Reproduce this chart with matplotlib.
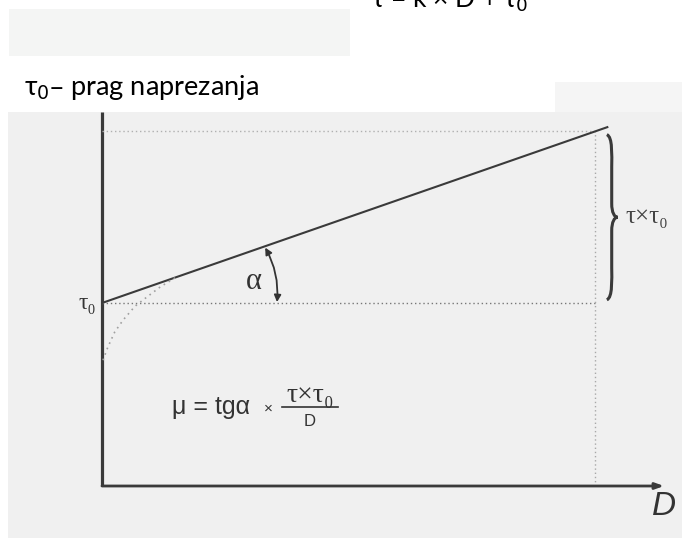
import numpy as np
import matplotlib
matplotlib.use("Agg")
import matplotlib.pyplot as plt
from matplotlib.patches import Rectangle, FancyArrowPatch, PathPatch
from matplotlib.path import Path

# ---- data (diagram quantities) ----
tau0 = 4.0            # yield stress level
k = 0.375             # slope (tg alpha)
D_max = 10.0          # end of the considered shear-rate range
D_line = [0.0, 10.25] # extent of the Bingham straight line
D_curve = [0.02, 0.12, 0.26, 0.43, 0.67, 0.91, 1.18, 1.48]   # real flow curve (dotted)
tau_curve = [2.75, 3.04, 3.37, 3.63, 3.93, 4.13, 4.35, 4.55]
tau_line = [tau0 + k * d for d in D_line]
tau_max = tau0 + k * D_max

title_top = "τ = k × D + τ$_0$"
subtitle = "τ$_0$– prag naprezanja"
x_label = "D"

SERIF = ["Liberation Serif", "DejaVu Serif"]
SANS = ["Liberation Sans", "DejaVu Sans"]

W, H = 682, 538
fig = plt.figure(figsize=(W / 100, H / 100), dpi=100)
fig.patch.set_facecolor("white")

# background axes in pixel coordinates (decorative scan patches and page text)
bg = fig.add_axes([0, 0, 1, 1])
bg.set_xlim(0, W)
bg.set_ylim(H, 0)
bg.axis("off")
bg.add_patch(Rectangle((9, 9), 341, 47, color="#f4f5f4", lw=0))
bg.add_patch(Rectangle((555, 82), 127, 30, color="#f5f5f5", lw=0))
bg.add_patch(Rectangle((8, 112), 674, 426, color="#f0f0f0", lw=0))

bg.text(450, 8, title_top, fontsize=19, family="Lato", ha="center", va="baseline",
        color="black")
bg.text(24, 95, subtitle, fontsize=19.5, family="Lato", ha="left", va="baseline",
        color="black")

# main diagram axes (data units); origin at pixel (102, 486)
x0, y0, x1, y1 = 102, 486, 664, 112
ax = fig.add_axes([x0 / W, (H - y0) / H, (x1 - x0) / W, (y0 - y1) / H])
ax.set_facecolor("none")
ax.set_xlim(0, (x1 - x0) / 49.3)
ax.set_ylim(0, (y0 - y1) / 45.75)
for s in ax.spines.values():
    s.set_visible(False)
ax.set_xticks([])
ax.set_yticks([])

xmax = ax.get_xlim()[1]
ymax = ax.get_ylim()[1]
axis_col = "#3a3a3a"
# axes lines
ax.plot([0, 0], [0, ymax], color=axis_col, lw=2.3, solid_capstyle="butt", clip_on=False)
ax.annotate("", xy=(xmax, 0), xytext=(0, 0),
            arrowprops=dict(arrowstyle="-|>,head_length=0.5,head_width=0.18",
                            color=axis_col, lw=2.0, shrinkA=0, shrinkB=0),
            annotation_clip=False)
ax.text(xmax, -0.45, x_label, fontsize=24, style="italic", family=SANS,
        ha="center", va="center", color="#333333")

# dotted guide lines
ax.plot([0, D_max], [tau0, tau0], ls=(0, (1, 2)), color="#777777", lw=1.0)
ax.plot([0, D_max], [tau_max, tau_max], ls=(0, (1, 2)), color="#b0b0b0", lw=1.0)
ax.plot([D_max, D_max], [0, tau_max], ls=(0, (1, 2)), color="#a8a8a8", lw=1.0)

# Bingham line
ax.plot(D_line, tau_line, color="#3a3a3a", lw=1.5)
# real curve (dotted)
ax.plot(D_curve, tau_curve, ls=(0, (1, 2.5)), color="#a0a0a0", lw=1.2)

# tau0 label
ax.text(-0.12, tau0, "τ₀", fontsize=17, family=SERIF, ha="right", va="center",
        color="#333333")

# angle alpha arc with arrows
pA = (3.31, tau0 + k * 3.31 - 0.03)
pB = (3.55, tau0 + 0.02)
arc = FancyArrowPatch(pA, pB, arrowstyle="<|-|>,head_length=4,head_width=2",
                      connectionstyle="arc3,rad=-0.15", color="#333333", lw=1.3,
                      shrinkA=0, shrinkB=0)
ax.add_patch(arc)
ax.text(3.08, 4.48, "α", fontsize=22, family=SERIF, ha="center", va="center",
        color="#333333")

# curly brace on the right
bx, bw = 10.24, 0.22
ylo, yhi = tau0 + 0.07, tau_max - 0.07
ym = 0.5 * (ylo + yhi)
verts = [(bx, yhi), (bx + bw * 0.55, yhi - 0.05), (bx + bw * 0.45, yhi - 0.45), (bx + bw * 0.45, yhi - 0.7),
         (bx + bw * 0.45, ym + 0.3),
         (bx + bw * 0.45, ym + 0.1), (bx + bw * 0.7, ym), (bx + bw, ym),
         (bx + bw * 0.7, ym), (bx + bw * 0.45, ym - 0.1), (bx + bw * 0.45, ym - 0.3),
         (bx + bw * 0.45, ylo + 0.7),
         (bx + bw * 0.45, ylo + 0.45), (bx + bw * 0.55, ylo + 0.05), (bx, ylo)]
codes = [Path.MOVETO, Path.CURVE4, Path.CURVE4, Path.CURVE4,
         Path.LINETO,
         Path.CURVE4, Path.CURVE4, Path.CURVE4,
         Path.CURVE4, Path.CURVE4, Path.CURVE4,
         Path.LINETO,
         Path.CURVE4, Path.CURVE4, Path.CURVE4]
ax.add_patch(PathPatch(Path(verts, codes), fill=False, color="#3a3a3a", lw=2.2,
                       clip_on=False))
ax.text(10.62, ym, "τ×τ₀", fontsize=18, family=SERIF, ha="left", va="center",
        color="#444444", clip_on=False)

# formula mu = tg(alpha) x (tau x tau0)/D
fcol = "#333333"
bg.text(172, 414, "μ = tgα", fontsize=18, family=SANS, ha="left",
        va="baseline", color=fcol)
bg.text(264, 413, "×", fontsize=11, family=SANS, ha="left", va="baseline",
        color=fcol)
bg.text(310, 402, "τ×τ₀", fontsize=20, family=SERIF, ha="center",
        va="baseline", color=fcol)
bg.plot([282, 338], [407, 407], color=fcol, lw=1.2)
bg.text(310, 421, "D", fontsize=12, family=SANS, ha="center",
        va="center", color=fcol)

fig.savefig("out.png", dpi=100, facecolor="white")
